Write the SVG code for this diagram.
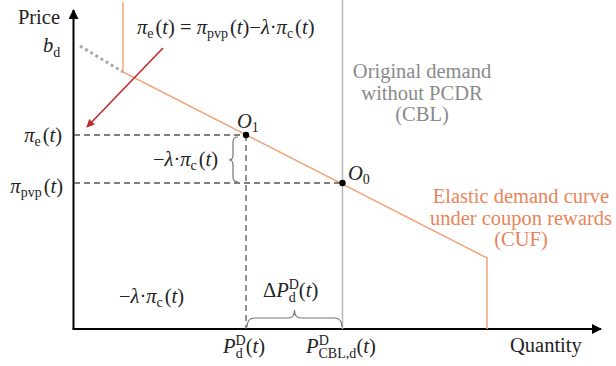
<svg xmlns="http://www.w3.org/2000/svg" width="616" height="366" viewBox="0 0 616 366" font-family="'Liberation Serif', 'DejaVu Serif', serif">
<defs>
<style>
text{font-family:'Liberation Serif','DejaVu Serif',serif;font-size:20.5px;fill:#222}
.i{font-style:italic}
.s{font-size:14px}
.gray{fill:#8a8a8a}
.org{fill:#e8845a}
.dash{stroke:#555;stroke-width:1.3;stroke-dasharray:6,4;fill:none}
.brace{stroke:#777;stroke-width:1.2;fill:none}
</style>
<marker id="ah" viewBox="0 0 10 10" refX="9" refY="5" markerWidth="5" markerHeight="5" orient="auto">
<path d="M0,0 L10,5 L0,10 z" fill="#000"/>
</marker>
<marker id="rh" viewBox="0 0 10 10" refX="9" refY="5" markerWidth="8" markerHeight="8" orient="auto" markerUnits="userSpaceOnUse">
<path d="M0,0 L10,5 L0,10 z" fill="#c0282d"/>
</marker>
</defs>
<rect width="616" height="366" fill="#fff"/>

<g id="axes">
<line x1="73.5" y1="329" x2="73.5" y2="10" stroke="#000" stroke-width="2" marker-end="url(#ah)"/>
<line x1="72.5" y1="329" x2="601" y2="329" stroke="#000" stroke-width="2" marker-end="url(#ah)"/>
<text x="60" y="24" text-anchor="end">Price</text>
<text x="510" y="352">Quantity</text>
</g>

<g id="connectors">
<line x1="80" y1="46" x2="123" y2="72" stroke="#aaa" stroke-width="3" stroke-dasharray="3,3"/>
<line x1="342.5" y1="0" x2="342.5" y2="329" stroke="#b8b8b8" stroke-width="1.5"/>
<path d="M123,2 L123,72 L487,258 L487,329" fill="none" stroke="#f2a47c" stroke-width="1.5"/>
<line class="dash" x1="74" y1="135" x2="246" y2="135"/>
<line class="dash" x1="74" y1="183" x2="342" y2="183"/>
<line class="dash" x1="246" y1="135" x2="246" y2="329"/>
<line x1="163" y1="48" x2="87" y2="127" stroke="#c0282d" stroke-width="1.6" marker-end="url(#rh)"/>
<path class="brace" d="M238,137 Q233,137 233,142 L233,155 Q233,160 229,160 Q233,160 233,165 L233,177 Q233,182 238,182"/>
<path class="brace" d="M247,327 Q247,318 255,318 L288,318 Q294.5,318 294.5,310 Q294.5,318 301,318 L334,318 Q342,318 342,327"/>
</g>

<g id="O1">
<circle cx="246" cy="135" r="3.2" fill="#000"/>
<text x="237" y="128"><tspan class="i">O</tspan><tspan class="s" dy="4">1</tspan></text>
</g>
<g id="O0">
<circle cx="342.5" cy="183" r="3.2" fill="#000"/>
<text x="348" y="180"><tspan class="i">O</tspan><tspan class="s" dy="4">0</tspan></text>
</g>

<g id="formula">
<text x="137" y="34"><tspan class="i">π</tspan><tspan class="s" dy="4">e</tspan><tspan dy="-4" dx="2">(</tspan><tspan class="i">t</tspan>) = <tspan class="i">π</tspan><tspan class="s" dy="4">pvp</tspan><tspan dy="-4" dx="2">(</tspan><tspan class="i">t</tspan>)−<tspan class="i">λ</tspan>·<tspan class="i">π</tspan><tspan class="s" dy="4">c</tspan><tspan dy="-4" dx="2">(</tspan><tspan class="i">t</tspan>)</text>
</g>

<g id="bd">
<text x="43" y="52"><tspan class="i">b</tspan><tspan class="s" dy="5">d</tspan></text>
</g>

<g id="pi-e">
<text x="62" y="142" text-anchor="end"><tspan class="i">π</tspan><tspan class="s" dy="4">e</tspan><tspan dy="-4" dx="2">(</tspan><tspan class="i">t</tspan>)</text>
</g>
<g id="pi-pvp">
<text x="63" y="193" text-anchor="end"><tspan class="i">π</tspan><tspan class="s" dy="4">pvp</tspan><tspan dy="-4" dx="2">(</tspan><tspan class="i">t</tspan>)</text>
</g>

<g id="lambda-brace">
<text x="153" y="166"><tspan>−</tspan><tspan class="i">λ</tspan>·<tspan class="i">π</tspan><tspan class="s" dy="4">c</tspan><tspan dy="-4" dx="2">(</tspan><tspan class="i">t</tspan>)</text>
</g>
<g id="lambda-bottom">
<text x="119" y="303"><tspan>−</tspan><tspan class="i">λ</tspan>·<tspan class="i">π</tspan><tspan class="s" dy="4">c</tspan><tspan dy="-4" dx="2">(</tspan><tspan class="i">t</tspan>)</text>
</g>

<g id="delta-p">
<text x="263" y="297">Δ<tspan class="i">P</tspan><tspan class="s" dy="-8">D</tspan><tspan class="s" dx="-10" dy="13">d</tspan><tspan dx="3" dy="-5">(</tspan><tspan class="i">t</tspan>)</text>
</g>
<g id="p-d">
<text x="223" y="353"><tspan class="i">P</tspan><tspan class="s" dy="-8">D</tspan><tspan class="s" dx="-10" dy="13">d</tspan><tspan dx="3" dy="-5">(</tspan><tspan class="i">t</tspan>)</text>
</g>
<g id="p-cbl">
<text x="306" y="353"><tspan class="i">P</tspan><tspan class="s" dy="5">CBL,d</tspan><tspan class="s" dx="-37.5" dy="-13">D</tspan><tspan dx="27.5" dy="8">(</tspan><tspan class="i">t</tspan>)</text>
</g>

<g id="cbl-label">
<text class="gray" text-anchor="middle"><tspan x="422" y="78">Original demand</tspan><tspan x="422" y="100">without PCDR</tspan><tspan x="422" y="121">(CBL)</tspan></text>
</g>
<g id="cuf-label">
<text class="org" text-anchor="middle"><tspan x="521" y="203">Elastic demand curve</tspan><tspan x="521" y="224.5">under coupon rewards</tspan><tspan x="521" y="246">(CUF)</tspan></text>
</g>
</svg>
